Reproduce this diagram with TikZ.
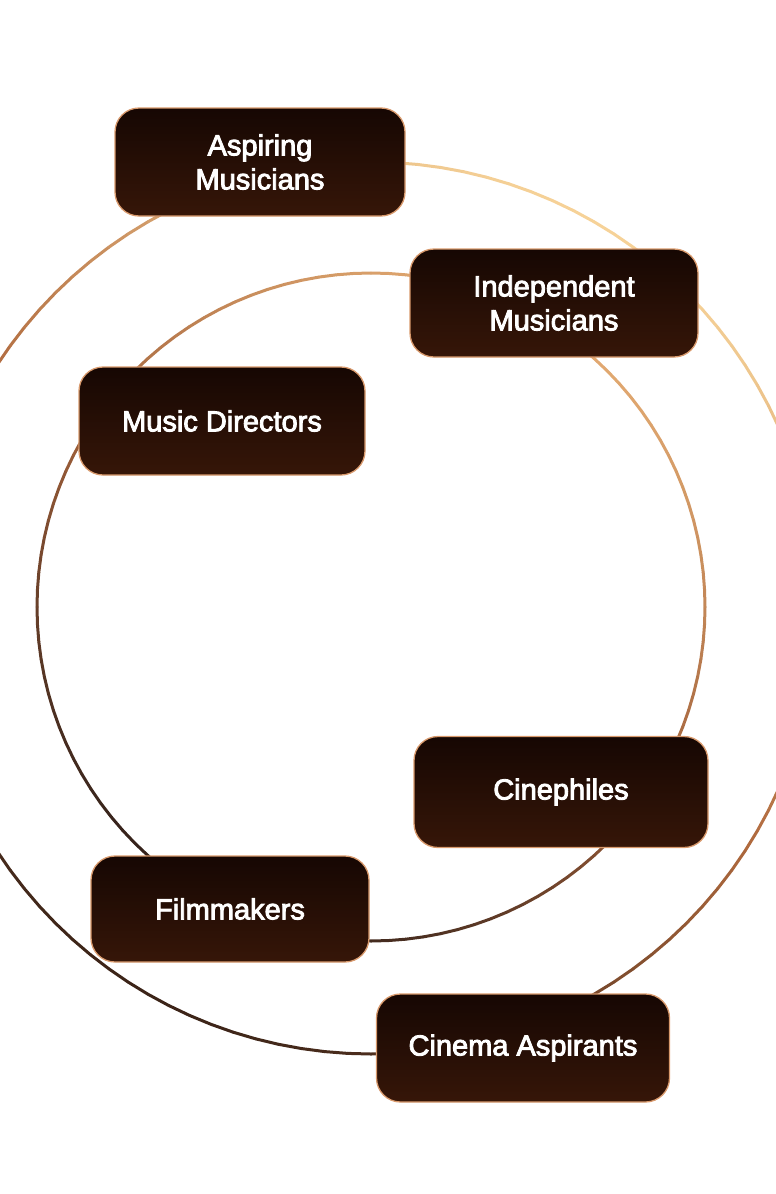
\documentclass[tikz,border=0pt]{standalone}
\usepackage{fontspec}
\usepackage{tikz}
\setmainfont{Liberation Sans}
\newfontfamily\tagfont[FakeBold=3]{Liberation Sans}
\definecolor{boxdark}{HTML}{160703}
\definecolor{boxlow}{HTML}{361608}
\definecolor{boxrim}{HTML}{D8996C}
\definecolor{indark}{HTML}{33211A}
\definecolor{inmid}{HTML}{A0603A}
\definecolor{inlight}{HTML}{E2AA72}
\definecolor{outdark}{HTML}{3C2418}
\definecolor{outmid}{HTML}{B06A3E}
\definecolor{outlight}{HTML}{F6D298}
% mix a ring colour: #1 value 0..100, #2 dark, #3 mid, #4 light
\newcommand\ringmix[4]{%
  \ifdim#1pt<50pt
    \pgfmathsetmacro\mixv{2*#1}\colorlet{segcol}{#3!\mixv!#2}%
  \else
    \pgfmathsetmacro\mixv{2*#1-100}\colorlet{segcol}{#4!\mixv!#3}%
  \fi}

\begin{document}
\begin{tikzpicture}[x=1pt, y=-1pt,
    aud/.style={rectangle, rounded corners=24pt, draw=boxrim, line width=1.3pt,
                top color=boxdark, bottom color=boxlow, text=white,
                minimum width=290pt, minimum height=108pt, align=center,
                font=\tagfont\fontsize{29}{34}\selectfont},
    ring/.style={line width=3pt, line cap=round}]
  \useasboundingbox (0,0) rectangle (776,1194);
  \clip (0,0) rectangle (776,1194);
  % the two rings, light at the top right
  \foreach \a in {0,3,...,357}{
    \pgfmathsetmacro\lt{50+50*cos(\a-300)}
    \ringmix{\lt}{outdark}{outmid}{outlight}
    \draw[ring, segcol] ({371+446*cos(\a)},{608+446*sin(\a)})
      -- ({371+446*cos(\a+3)},{608+446*sin(\a+3)});
    \ringmix{\lt}{indark}{inmid}{inlight}
    \draw[ring, segcol] ({371+334*cos(\a)},{607+334*sin(\a)})
      -- ({371+334*cos(\a+3)},{607+334*sin(\a+3)});
  }
  \node[aud] (aspiring) at (260,162) {Aspiring\\Musicians};
  \node[aud, minimum width=288pt] (indep) at (554,303) {Independent\\Musicians};
  \node[aud, minimum width=286pt] (musicdir) at (222,421) {Music Directors};
  \node[aud, minimum width=294pt, minimum height=111pt] (cinephiles) at (561,792) {Cinephiles};
  \node[aud, minimum width=278pt, minimum height=106pt] (filmmakers) at (230,909) {Filmmakers};
  \node[aud, minimum width=293pt] (aspirants) at (523,1048) {Cinema Aspirants};
\end{tikzpicture}
\end{document}
